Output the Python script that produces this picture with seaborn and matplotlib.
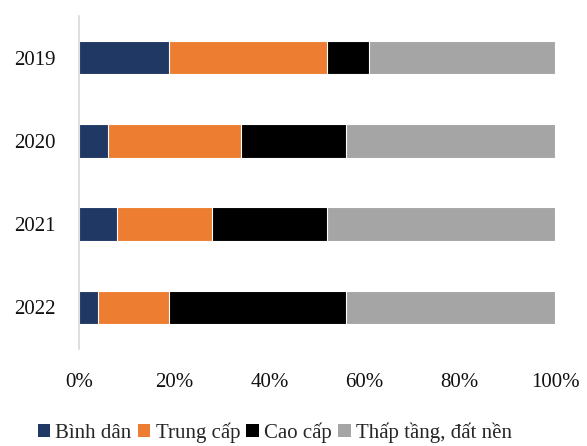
import numpy as np
import pandas as pd
import matplotlib
matplotlib.use('Agg')
import matplotlib.pyplot as plt
from matplotlib.patches import Patch
from matplotlib.ticker import PercentFormatter
import seaborn as sns

years = ['2019', '2020', '2021', '2022']
segments = ['Bình dân', 'Trung cấp', 'Cao cấp', 'Thấp tầng, đất nền']
binh_dan = [19, 6, 8, 4]
trung_cap = [33, 28, 20, 15]
cao_cap = [9, 22, 24, 37]
thap_tang = [39, 44, 48, 44]
colors = ['#203864', '#ED7D31', '#000000', '#A5A5A5']

sns.set_style('white')
plt.rcParams['font.family'] = ['Liberation Serif', 'DejaVu Serif']

shares = np.array([binh_dan, trung_cap, cao_cap, thap_tang], dtype=float)
cum = np.cumsum(shares, axis=0)

fig = plt.figure(figsize=(5.87, 4.46), dpi=100)
ax = fig.add_axes([0.1346, 0.2175, 0.811, 0.7465])

# vẽ từ đoạn cộng dồn lớn nhất xuống nhỏ nhất để xếp chồng
for i in range(len(segments) - 1, -1, -1):
    df = pd.DataFrame({'year': years, 'value': cum[i]})
    sns.barplot(data=df, x='value', y='year', orient='h', color=colors[i],
                width=0.4, edgecolor='white', linewidth=0.8, saturation=1, ax=ax)

ax.set_xlim(0, 100)
ax.set_ylim(3.5, -0.5)
ax.xaxis.set_major_locator(plt.MultipleLocator(20))
ax.xaxis.set_major_formatter(PercentFormatter(decimals=0))
ax.set_xlabel('')
ax.set_ylabel('')
ax.tick_params(axis='both', length=0, labelsize=15, colors='#111111')
ax.tick_params(axis='x', pad=17)
ax.tick_params(axis='y', pad=17)
for s in ['top', 'right', 'bottom']:
    ax.spines[s].set_visible(False)
ax.spines['left'].set_color('#D9D9D9')
ax.spines['left'].set_linewidth(1.2)

handles = [Patch(facecolor=c, edgecolor='none') for c in colors]
fig.legend(handles, segments, loc='lower center', bbox_to_anchor=(0.468, -0.035),
           ncol=4, frameon=False, fontsize=15, handlelength=0.6, handleheight=0.6,
           handletextpad=0.25, columnspacing=0.3)

fig.savefig('out.png', dpi=100)
